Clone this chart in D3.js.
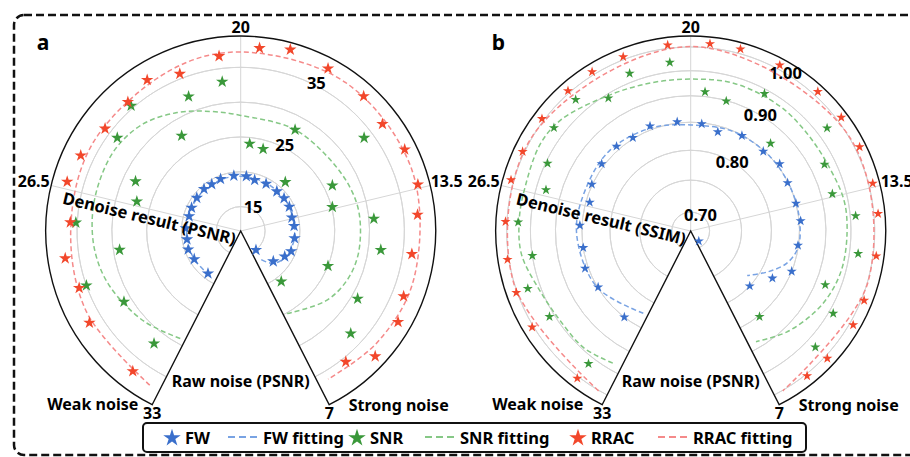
<!DOCTYPE html>
<html>
<head>
<meta charset="utf-8">
<script src="https://cdn.jsdelivr.net/npm/d3@7"></script>
<style>
  body { margin: 0; background: #fff; }
  svg { display: block; font-family: "Noto Sans", "Open Sans", sans-serif; }
</style>
</head>
<body>
<svg id="chart" width="910" height="457"></svg>
<script>
// raw noise PSNR of each test case (angular axis)
var rawNoise = [32.1, 30.3, 29.3, 28.4, 27.4, 26.3, 25.5, 24.5, 23.5, 22.7, 21.8, 20.6, 19.5,
  18.7, 17.6, 16.4, 15.5, 14.6, 13.6, 12.8, 11.7, 10.5, 9.8, 8.7, 8.0];

// panel a: denoise result PSNR
var fwPsnr = [19.2, 19.3, 19.5, 19.3, 19.4, 19.2, 19.3, 19.4, 19.5, 19.4, 19.5, 19.5, 19.4,
  19.1, 19.2, 19.2, 19.3, 19.3, 19.1, 19.2, 19.3, 19.3, 18.8, 17.9, 15.0];
var snrPsnr = [31.9, 31.1, 35.0, 29.1, 35.2, 27.0, 28.2, 33.7, 35.4, 27.6, 32.2, 33.1, 24.1,
  23.7, 28.0, 21.0, 33.7, 26.2, 25.1, 30.7, 31.8, 25.0, 30.9, 33.1, 20.8];
var rracPsnr = [36.9, 36.9, 36.1, 37.0, 36.0, 37.4, 36.9, 35.9, 36.1, 37.0, 35.7, 36.8, 37.9,
  38.5, 38.0, 37.7, 37.0, 37.8, 37.8, 37.0, 36.3, 36.7, 37.6, 37.9, 35.6];

// panel b: denoise result SSIM
var fwSsim = [0.850, 0.849, 0.856, 0.850, 0.854, 0.843, 0.851, 0.855, 0.857, 0.852, 0.857, 0.852, 0.848,
  0.839, 0.849, 0.848, 0.855, 0.849, 0.850, 0.853, 0.849, 0.850, 0.824, 0.800, 0.691];
var snrSsim = [0.965, 0.960, 0.976, 0.950, 0.976, 0.930, 0.946, 0.973, 0.980, 0.942, 0.968, 0.970, 0.909,
  0.899, 0.941, 0.868, 0.972, 0.928, 0.922, 0.961, 0.968, 0.919, 0.959, 0.971, 0.852];
var rracSsim = [1.004, 1.003, 1.002, 1.003, 1.003, 1.006, 1.004, 1.005, 1.005, 1.007, 1.006, 1.007, 1.009,
  1.010, 1.009, 1.010, 1.010, 1.010, 1.009, 1.009, 1.007, 1.006, 1.008, 1.006, 1.004];

// fitting curves
var fwPsnrFitX = [32.3, 30, 27, 24, 21, 18, 15, 12, 11, 10, 9, 8.3, 7.7];
var fwPsnrFit = [19.3, 19.3, 19.3, 19.35, 19.4, 19.3, 19.3, 19.3, 19.2, 19.0, 18.5, 17.7, 16.5];
var snrPsnrFitX = [32.8, 31.3, 29.6, 28.4, 27.2, 26.0, 24.8, 23.6, 22.4, 21.2, 20, 17.7, 15.8, 14.2, 13.0, 11.4, 10.2, 9.0, 7.2];
var snrPsnrFit = [29.2, 30.5, 31.9, 32.6, 32.9, 33.0, 33.0, 32.3, 30.8, 29.2, 28.1, 28.0, 27.9, 28.4, 28.7, 28.7, 28.3, 27.3, 25.1];
var rracPsnrFitX = [32.7, 30, 27.5, 25, 22, 20, 17, 14, 11, 9, 7.3];
var rracPsnrFit = [37.2, 36.5, 35.9, 36.2, 36.7, 37.2, 37.6, 37.6, 37.3, 36.8, 36.2];

var fwSsimFitX = [32.75, 30.25, 27.7, 25.7, 23.8, 21.8, 20, 18, 16, 14.4, 13, 11.65, 10.8, 10, 9.1];
var fwSsimFit = [0.825, 0.851, 0.860, 0.858, 0.860, 0.853, 0.845, 0.849, 0.850, 0.850, 0.851, 0.850, 0.837, 0.812, 0.785];
var snrSsimFitX = [32.7, 31.7, 30.6, 29.4, 28.3, 27.3, 26.4, 25.1, 24.2, 22.7, 21.3, 20, 18.6, 17, 15.8, 14.5, 13.3, 12.3, 11.2, 10.3, 9.5, 8.4, 7.3];
var snrSsimFit = [0.936, 0.946, 0.946, 0.955, 0.972, 0.974, 0.973, 0.978, 0.972, 0.947, 0.936, 0.933, 0.937, 0.936, 0.933, 0.934, 0.942, 0.942, 0.941, 0.935, 0.925, 0.908, 0.887];
var rracSsimFitX = [32.75, 29, 25, 20, 15, 11, 7.25];
var rracSsimFit = [1.001, 1.001, 1.001, 1.001, 1.001, 1.001, 1.001];

var angleTicks = ['33', '26.5', '20', '13.5', '7'];
var psnrGrid = [15, 20, 25, 30, 35];
var psnrLabels = [15, 25, 35];
var ssimGrid = [0.70, 0.75, 0.80, 0.85, 0.90, 0.95, 1.00];
var ssimLabels = [0.70, 0.80, 0.90, 1.00];

var legendItems = [
  {name: 'FW', type: 'star', color: '#3a6fcb'},
  {name: 'FW fitting', type: 'dash', color: '#79a3e3'},
  {name: 'SNR', type: 'star', color: '#3a983a'},
  {name: 'SNR fitting', type: 'dash', color: '#86c886'},
  {name: 'RRAC', type: 'star', color: '#f2472b'},
  {name: 'RRAC fitting', type: 'dash', color: '#f58a8a'}
];

var svg = d3.select('#chart');
var R = 195;
var half = 153 * Math.PI / 180;

// outer dashed frame
svg.append('rect')
  .attr('x', 14).attr('y', 15)
  .attr('width', 905).attr('height', 440)
  .attr('rx', 10)
  .attr('fill', 'none')
  .attr('stroke', '#111')
  .attr('stroke-width', 2.5)
  .attr('stroke-dasharray', '8,4');

function pt(a, r) {
  return [r * Math.sin(a), -r * Math.cos(a)];
}

function drawPanel(p) {
  var g = svg.append('g')
    .attr('transform', 'translate(' + p.cx + ',' + p.cy + ')');

  var angle = d3.scaleLinear().domain([33, 7]).range([-half, half]);
  var r = p.radial;

  // grid circles
  g.selectAll('.gridc')
    .data(p.grid)
    .enter()
    .append('path')
    .attr('d', function(d) {
      return d3.arc()({innerRadius: r(d), outerRadius: r(d), startAngle: -half, endAngle: half});
    })
    .attr('fill', 'none')
    .attr('stroke', '#d6d6d6')
    .attr('stroke-width', 1);

  // angular grid lines
  g.selectAll('.gridl')
    .data([26.5, 20, 13.5])
    .enter()
    .append('line')
    .attr('x1', 0).attr('y1', 0)
    .attr('x2', function(d) { return pt(angle(d), R)[0]; })
    .attr('y2', function(d) { return pt(angle(d), R)[1]; })
    .attr('stroke', '#d6d6d6')
    .attr('stroke-width', 1);

  // outer boundary
  var pl = pt(-half, R), pr = pt(half, R);
  g.append('path')
    .attr('d', 'M' + pl[0] + ',' + pl[1] + 'L0,0L' + pr[0] + ',' + pr[1] +
      'A' + R + ',' + R + ' 0 1 0 ' + pl[0] + ',' + pl[1] + 'Z')
    .attr('fill', 'none')
    .attr('stroke', '#111')
    .attr('stroke-width', 1.4);

  // radial labels
  var la = p.labelAngle * Math.PI / 180;
  g.selectAll('.rlab')
    .data(p.labels)
    .enter()
    .append('text')
    .attr('x', function(d) { return pt(la, r(d) + p.labelShift)[0]; })
    .attr('y', function(d) { return pt(la, r(d) + p.labelShift)[1] + 6; })
    .attr('text-anchor', 'middle')
    .attr('font-size', '16.5px')
    .attr('font-weight', 'bold')
    .text(function(d) { return p.fmt(d); });

  // angular tick labels
  var tl = [
    {x: pl[0], y: 188, a: 'middle'},
    {x: -191, y: -44, a: 'end'},
    {x: 0, y: -198, a: 'middle'},
    {x: 190, y: -44, a: 'start'},
    {x: pr[0], y: 188, a: 'middle'}
  ];
  g.selectAll('.tlab')
    .data(angleTicks)
    .enter()
    .append('text')
    .attr('x', function(d, i) { return tl[i].x; })
    .attr('y', function(d, i) { return tl[i].y; })
    .attr('text-anchor', function(d, i) { return tl[i].a; })
    .attr('font-size', '16px')
    .attr('font-weight', 'bold')
    .text(function(d) { return d; });

  // fitting lines
  var line = d3.lineRadial()
    .angle(function(d) { return angle(d[0]); })
    .radius(function(d) { return r(d[1]); })
    .curve(d3.curveCatmullRom);

  p.fits.forEach(function(f) {
    g.append('path')
      .datum(d3.zip(f.x, f.y))
      .attr('d', line)
      .attr('fill', 'none')
      .attr('stroke', f.color)
      .attr('stroke-width', 1.5)
      .attr('stroke-dasharray', '5,3');
  });

  // star markers
  var star = d3.symbol().type(d3.symbolStar).size(p.starSize);
  p.series.forEach(function(s) {
    g.selectAll(null)
      .data(d3.zip(rawNoise, s.values))
      .enter()
      .append('path')
      .attr('d', star)
      .attr('transform', function(d) {
        var q = pt(angle(d[0]), r(d[1]));
        return 'translate(' + q[0] + ',' + q[1] + ')';
      })
      .attr('fill', s.color);
  });

  // axis titles
  g.append('text')
    .attr('transform', 'rotate(13.5)')
    .attr('x', -3).attr('y', 15)
    .attr('text-anchor', 'end')
    .attr('font-size', '16.5px')
    .attr('font-weight', 'bold')
    .text(p.title);

  g.append('text')
    .attr('x', 0).attr('y', 156)
    .attr('text-anchor', 'middle')
    .attr('font-size', '16px')
    .attr('font-weight', 'bold')
    .text('Raw noise (PSNR)');

  g.append('text')
    .attr('x', p.weakX).attr('y', 179)
    .attr('text-anchor', 'middle')
    .attr('font-size', '16px')
    .attr('font-weight', 'bold')
    .text('Weak noise');

  g.append('text')
    .attr('x', 158).attr('y', 180)
    .attr('text-anchor', 'middle')
    .attr('font-size', '16px')
    .attr('font-weight', 'bold')
    .text('Strong noise');

  g.append('text')
    .attr('x', p.letterX).attr('y', -181)
    .attr('font-size', '21px')
    .attr('font-weight', 'bold')
    .text(p.letter);
}

drawPanel({
  cx: 240.7, cy: 231, letter: 'a', letterX: -204, weakX: -148,
  title: 'Denoise result (PSNR)',
  radial: d3.scaleLinear().domain([11.5, 39.5]).range([0, R]),
  grid: psnrGrid, labels: psnrLabels, labelAngle: 27, labelShift: 3,
  fmt: function(d) { return d; },
  starSize: 48,
  fits: [
    {x: fwPsnrFitX, y: fwPsnrFit, color: legendItems[1].color},
    {x: snrPsnrFitX, y: snrPsnrFit, color: legendItems[3].color},
    {x: rracPsnrFitX, y: rracPsnrFit, color: legendItems[5].color}
  ],
  series: [
    {values: fwPsnr, color: legendItems[0].color},
    {values: snrPsnr, color: legendItems[2].color},
    {values: rracPsnr, color: legendItems[4].color}
  ]
});

drawPanel({
  cx: 690.7, cy: 231, letter: 'b', letterX: -199, weakX: -153,
  title: 'Denoise result (SSIM)',
  radial: d3.scaleLog().domain([0.672, 1.024]).range([0, R]),
  grid: ssimGrid, labels: ssimLabels, labelAngle: 31, labelShift: 0,
  fmt: d3.format('.2f'),
  starSize: 32,
  fits: [
    {x: fwSsimFitX, y: fwSsimFit, color: legendItems[1].color},
    {x: snrSsimFitX, y: snrSsimFit, color: legendItems[3].color},
    {x: rracSsimFitX, y: rracSsimFit, color: legendItems[5].color}
  ],
  series: [
    {values: fwSsim, color: legendItems[0].color},
    {values: snrSsim, color: legendItems[2].color},
    {values: rracSsim, color: legendItems[4].color}
  ]
});

// legend
var legend = svg.append('g');
legend.append('rect')
  .attr('x', 143).attr('y', 423)
  .attr('width', 663).attr('height', 29)
  .attr('rx', 4)
  .attr('fill', '#fff')
  .attr('stroke', '#111')
  .attr('stroke-width', 2);

var legendX = [172, 243, 357, 440, 578, 673];
legendItems.forEach(function(item, i) {
  var x = legendX[i];
  if (item.type == 'star') {
    legend.append('path')
      .attr('d', d3.symbol().type(d3.symbolStar).size(95)())
      .attr('transform', 'translate(' + x + ',438)')
      .attr('fill', item.color);
    legend.append('text')
      .attr('x', x + 13).attr('y', 444)
      .attr('font-size', '16.5px')
      .attr('font-weight', 'bold')
      .text(item.name);
  } else {
    legend.append('line')
      .attr('x1', x - 15).attr('x2', x + 15)
      .attr('y1', 437).attr('y2', 437)
      .attr('stroke', item.color)
      .attr('stroke-width', 2)
      .attr('stroke-dasharray', '7,4');
    legend.append('text')
      .attr('x', x + 20).attr('y', 444)
      .attr('font-size', '16.5px')
      .attr('font-weight', 'bold')
      .text(item.name);
  }
});
</script>
</body>
</html>
